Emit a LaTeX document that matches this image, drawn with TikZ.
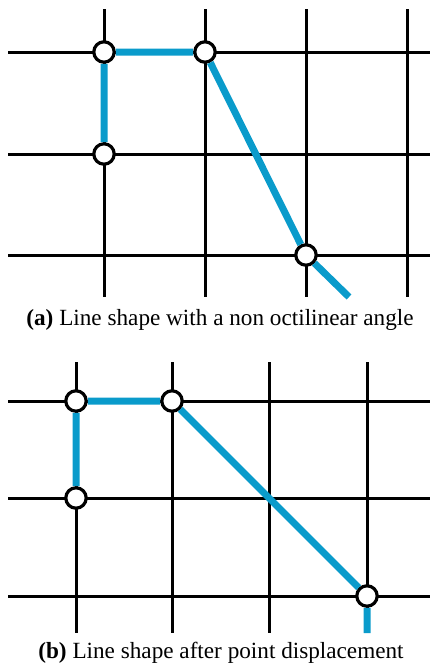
\documentclass[tikz,border=0pt]{standalone}
\usepackage{fontspec}
\setmainfont{Liberation Serif}
\usetikzlibrary{positioning}
\definecolor{routeblue}{HTML}{0A9BCB}
\tikzset{
    gridline/.style={draw=black,line width=1.5pt},
    route/.style={draw=routeblue,line width=3.5pt},
    bendpt/.style={circle,draw=black,fill=white,line width=1.6pt,minimum size=10.2pt,inner sep=0pt},
    caption/.style={font=\fontsize{11.6}{13}\selectfont,inner sep=0pt},
}

\begin{document}
\begin{tikzpicture}[x=0.5pt,y=-0.5pt]
    \useasboundingbox (0,0) rectangle (430,670);

    % (a) grid
    \foreach \y in {52,154,255} \draw[gridline] (8,\y) -- (430,\y);
    \foreach \x in {104,205,306,407} \draw[gridline] (\x,9) -- (\x,297);

    \node[bendpt] (a1) at (104,52) {};
    \node[bendpt] (a2) at (205,52) {};
    \node[bendpt] (a3) at (104,154) {};
    \node[bendpt] (a4) at (306,255) {};
    \coordinate (aend) at (349,297);

    \path[route] (a3) -- (a1) (a1) -- (a2) (a2) -- (a4) (a4) -- (aend);

    \node[caption] (capa) at (220,320) {\textbf{(a)} Line shape with a non octilinear angle};

    % (b) grid
    \foreach \y in {401,498,596} \draw[gridline] (8,\y) -- (430,\y);
    \foreach \x in {76,172,269,367} \draw[gridline] (\x,362) -- (\x,633);

    \node[bendpt] (b1) at (76,401) {};
    \node[bendpt] (b2) at (172,401) {};
    \node[bendpt] (b3) at (76,498) {};
    \node[bendpt] (b4) at (367,596) {};
    \coordinate (bend) at (367,633);

    \path[route] (b3) -- (b1) (b1) -- (b2) (b2) -- (b4) (b4) -- (bend);

    \node[caption] (capb) at (221,653) {\textbf{(b)} Line shape after point displacement};
\end{tikzpicture}
\end{document}
